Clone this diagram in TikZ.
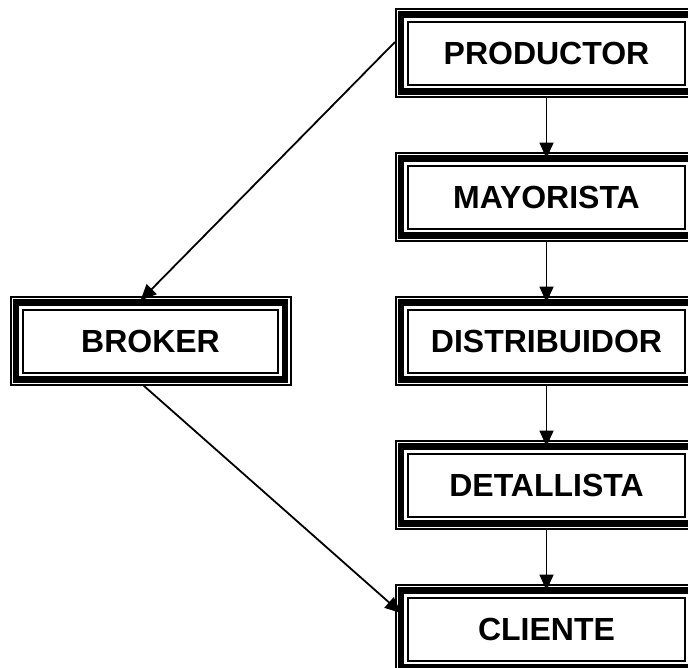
\documentclass[tikz,border=0pt]{standalone}
\usepackage{fontspec}
\setmainfont{Liberation Sans}
\usetikzlibrary{arrows.meta}

\begin{document}
\begin{tikzpicture}[x=1pt, y=-1pt,
		canal/.style={draw, line width=2pt, minimum height=63pt, inner sep=0pt,
			font=\fontsize{32}{36}\selectfont\bfseries},
		flecha/.style={-{Triangle[length=16pt, width=14pt]}, line width=1.8pt}]
		\useasboundingbox (0,0) rectangle (688,667);
		% nodos del canal
		\node[canal, minimum width=277pt] (prod) at (546.5,53) {PRODUCTOR};
		\node[canal, minimum width=277pt] (may) at (546.5,197) {MAYORISTA};
		\node[canal, minimum width=277pt] (dist) at (546.5,341) {DISTRIBUIDOR};
		\node[canal, minimum width=277pt] (det) at (546.5,485) {DETALLISTA};
		\node[canal, minimum width=277pt] (cli) at (546.5,629) {CLIENTE};
		\node[canal, minimum width=255pt] (brok) at (150.5,341) {BROKER};
		% marcos exteriores
		\foreach \n in {prod, may, dist, det, cli, brok} {
			\draw[line width=6.5pt] ([shift={(-6pt,6pt)}]\n.north west) rectangle ([shift={(6pt,-6pt)}]\n.south east);
			\draw[line width=2pt] ([shift={(-11.5pt,11.5pt)}]\n.north west) rectangle ([shift={(11.5pt,-11.5pt)}]\n.south east);
		}
		% flechas
		\draw[flecha] ([yshift=-12pt]prod.south) -- ([yshift=6pt]may.north);
		\draw[flecha] ([yshift=-12pt]may.south) -- ([yshift=6pt]dist.north);
		\draw[flecha] ([yshift=-12pt]dist.south) -- ([yshift=6pt]det.north);
		\draw[flecha] ([yshift=-12pt]det.south) -- ([yshift=6pt]cli.north);
		\draw[flecha] ([xshift=-12pt, yshift=11pt]prod.west) -- ([xshift=-10pt, yshift=8pt]brok.north);
		\draw[flecha] ([xshift=-7pt, yshift=-12pt]brok.south) -- ([xshift=-6pt, yshift=16pt]cli.west);
	\end{tikzpicture}
\end{document}
